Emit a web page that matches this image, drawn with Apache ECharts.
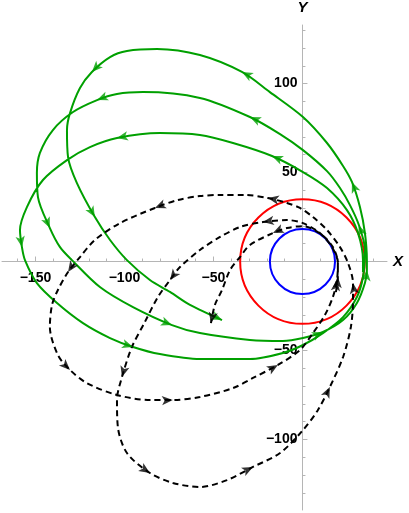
<!DOCTYPE html>
<html>
<head>
<meta charset="utf-8">
<script src="https://cdn.jsdelivr.net/npm/echarts@6/dist/echarts.min.js"></script>
<style>
  html, body { margin: 0; padding: 0; background: #fff; }
  #chart { width: 409px; height: 513px; }
</style>
</head>
<body>
<div id="chart"></div>
<script>
// green trajectory (3 loops)
const greenPath = [
  [34.0, -5.9], [34.0, 0.8], [31.2, 16.0], [25.0, 28.9], [13.8, 41.3], [0.3, 50.3],
  [-17.1, 59.3], [-39.0, 66.6], [-57.6, 71.1], [-80.1, 72.2], [-104.2, 69.4], [-119.4, 64.3],
  [-132.3, 57.0], [-145.8, 45.8], [-154.8, 30.6], [-158.7, 17.7], [-157.6, 8.1], [-155.9, 0.8],
  [-149.2, -12.1], [-137.9, -23.3], [-123.3, -34.6], [-108.1, -43.0], [-95.2, -48.0], [-80.1, -52.0],
  [-57.6, -54.8], [-29.5, -54.8], [-11.0, -51.4], [0.3, -46.9], [11.5, -40.2], [22.8, -31.2],
  [30.6, -19.9], [34.0, -8.7],
  [35.1, 6.5], [31.7, 20.5], [26.7, 31.7], [21.1, 41.3], [13.8, 50.8], [0.3, 62.6],
  [-12.6, 71.6], [-29.5, 81.2], [-57.6, 91.9], [-89.6, 95.2], [-104.2, 94.1], [-115.4, 90.7],
  [-128.9, 84.0], [-140.2, 73.9], [-147.5, 61.0], [-149.2, 49.7], [-148.6, 36.2], [-141.9, 18.8],
  [-136.2, 8.1], [-129.5, 0.8],
  [-113.8, -14.3], [-95.2, -25.6], [-73.3, -35.7], [-57.6, -40.2], [-29.5, -44.1], [-11.0, -44.7],
  [0.3, -43.0], [11.5, -39.6], [22.8, -32.9], [30.6, -23.3], [35.1, -12.1], [36.2, -4.8],
  [36.2, 0.8], [35.1, 16.0], [32.3, 30.6], [27.8, 44.7], [22.8, 53.7], [13.8, 66.6],
  [0.3, 81.2], [-18.3, 95.2], [-34.0, 106.5], [-57.6, 116.0], [-81.7, 119.4], [-98.6, 118.3],
  [-108.1, 114.9], [-118.3, 106.5], [-125.0, 97.5], [-130.6, 83.4], [-132.3, 73.9], [-131.7, 58.7],
  [-126.7, 44.1], [-116.6, 25.0], [-108.1, 12.1], [-98.6, 0.8],
  [-85.7, -10.4], [-74.4, -17.1], [-63.2, -24.4], [-45.2, -32.9]
];
const greenArrowAt = [6, 10, 16, 22, 33, 39, 43, 49, 54, 59, 63, 67, 72, 77, 83, 89];

// dashed trajectory
const dashPath = [
  [18.8, -17.1], [19.9, -8.7], [19.9, -0.8], [16.6, 8.1], [9.8, 16.0], [0.3, 21.6],
  [-8.7, 23.3], [-22.2, 22.2], [-35.1, 19.4], [-46.3, 13.8], [-57.6, 6.5], [-68.8, -3.1],
  [-74.4, -10.4], [-81.2, -19.9], [-88.5, -33.9], [-95.8, -48.0], [-101.4, -64.9], [-104.2, -77.8],
  [-103.7, -93.0], [-98.6, -107.6], [-85.7, -118.8], [-72.8, -124.4], [-57.6, -126.7], [-42.4, -122.8],
  [-27.8, -115.4], [-12.6, -107.6], [0.3, -94.7], [8.7, -83.4], [15.4, -70.5], [22.8, -53.7],
  [27.2, -36.8], [28.4, -21.6], [28.4, -12.1], [25.6, -0.8], [21.1, 8.1], [13.8, 17.7],
  [5.9, 25.0], [-1.4, 30.1], [-8.7, 32.9], [-19.4, 35.7], [-32.3, 37.4], [-46.3, 37.4],
  [-57.6, 36.8], [-69.9, 34.6], [-82.9, 30.1], [-102.5, 21.6], [-116.6, 12.1], [-125.0, 2.5],
  [-131.7, -5.9], [-137.4, -16.0], [-140.7, -24.4], [-141.9, -36.8], [-137.4, -52.5], [-130.6, -60.9],
  [-121.1, -68.3], [-104.2, -75.0], [-85.7, -77.8], [-72.8, -77.8], [-57.6, -76.1], [-39.0, -71.1],
  [-27.8, -65.4], [-13.8, -58.1], [-1.4, -49.7], [5.9, -40.2], [12.6, -30.1], [17.1, -19.9],
  [19.4, -10.4], [19.9, -0.8], [17.1, 8.1], [10.4, 15.4], [0.3, 19.9], [-8.7, 18.8],
  [-16.6, 16.0], [-29.5, 9.3], [-35.1, 2.5], [-40.7, -4.8], [-45.2, -16.0], [-49.2, -24.4],
  [-51.4, -34.6]
];
const dashArrowAt = [1, 7, 12, 16, 20, 24, 28, 32, 39, 44, 48, 53, 57, 61, 66, 72, 78];

// circles centred on the origin
const circleCenter = [0, 0];
const circleRadii = [35, 18.3];
const circleColors = ['#ff0000', '#0000ff'];

// ticks (major ones carry labels)
const xMinorTicks = [-160, -140, -130, -120, -110, -90, -80, -70, -60, -40, -30, -20, -10, 10, 20, 30, 40];
const xMajorTicks = [-150, -100, -50];
const yMinorTicks = [-130, -120, -110, -90, -80, -70, -60, -40, -30, -20, -10, 10, 20, 30, 40, 60, 70, 80, 90, 110, 120, 130];
const yMajorTicks = [-100, -50, 50, 100];

const GREEN = '#00a000';
const AXIS_GRAY = '#b5b5b5';
const FONT = 'Liberation Sans, Arial, sans-serif';
const GRID = { left: 2, right: 22, top: 25, bottom: 3 };

const arrowData = (path, idxs) =>
  idxs.map((i) => {
    const a = path[Math.max(i - 1, 0)];
    const b = path[Math.min(i + 1, path.length - 1)];
    const ang = (Math.atan2(b[1] - a[1], b[0] - a[0]) * 180) / Math.PI;
    return { value: path[i], symbolRotate: ang - 90 };
  });

const labelStyle = {
  color: '#000',
  fontSize: 14,
  fontWeight: 'bold',
  fontFamily: FONT,
  formatter: (v) => String(v).replace('-', '\u2212'),
};
const nameStyle = { color: '#000', fontSize: 15, fontWeight: 'bold', fontStyle: 'italic', fontFamily: FONT };

// axes are moved onto the zero lines with offset (labels do not follow onZero here)
const xAxisBase = { type: 'value', position: 'bottom', min: -168.8, max: 47.5, splitLine: { show: false } };
const yAxisBase = { type: 'value', position: 'left', min: -139.6, max: 132.9, splitLine: { show: false } };

const chart = echarts.init(document.getElementById('chart'));
chart.setOption({
  animation: false,
  grid: { ...GRID, containLabel: false, outerBoundsMode: 'none' },
  xAxis: [
    {
      ...xAxisBase,
      name: 'X',
      nameLocation: 'end',
      nameGap: 6,
      nameTextStyle: { ...nameStyle, align: 'left', verticalAlign: 'middle' },
      axisLine: { onZero: false, lineStyle: { color: AXIS_GRAY, width: 1 } },
      axisTick: { show: true, inside: true, length: 5, customValues: xMajorTicks, lineStyle: { color: AXIS_GRAY } },
      axisLabel: { ...labelStyle, margin: 10, customValues: xMajorTicks },
    },
    {
      ...xAxisBase,
      axisLine: { show: false, onZero: false },
      axisTick: { show: true, inside: true, length: 3, customValues: xMinorTicks, lineStyle: { color: AXIS_GRAY } },
      axisLabel: { show: false },
    },
  ],
  yAxis: [
    {
      ...yAxisBase,
      name: 'Y',
      nameLocation: 'end',
      nameGap: 10,
      nameTextStyle: { ...nameStyle, align: 'center', verticalAlign: 'bottom' },
      axisLine: { onZero: false, lineStyle: { color: AXIS_GRAY, width: 1 } },
      axisTick: { show: true, inside: true, length: 5, customValues: yMajorTicks, lineStyle: { color: AXIS_GRAY } },
      axisLabel: { ...labelStyle, margin: 5, customValues: yMajorTicks },
    },
    {
      ...yAxisBase,
      axisLine: { show: false, onZero: false },
      axisTick: { show: true, inside: true, length: 3, customValues: yMinorTicks, lineStyle: { color: AXIS_GRAY } },
      axisLabel: { show: false },
    },
  ],
  series: [
    {
      type: 'line',
      data: greenPath,
      smooth: 0.3,
      showSymbol: false,
      lineStyle: { color: GREEN, width: 2 },
      z: 2,
    },
    {
      type: 'scatter',
      data: arrowData(greenPath, greenArrowAt),
      symbol: 'arrow',
      symbolSize: [7, 11],
      itemStyle: { color: GREEN },
      z: 3,
    },
    {
      type: 'line',
      data: dashPath,
      smooth: 0.3,
      showSymbol: false,
      lineStyle: { color: '#000', width: 2, type: [6, 4] },
      z: 2,
    },
    {
      type: 'scatter',
      data: arrowData(dashPath, dashArrowAt),
      symbol: 'arrow',
      symbolSize: [7, 11],
      itemStyle: { color: '#000' },
      z: 3,
    },
    {
      type: 'custom',
      coordinateSystem: 'cartesian2d',
      data: circleRadii.map((r, i) => [circleCenter[0], circleCenter[1], r, i]),
      renderItem: (params, api) => {
        const c = api.coord([api.value(0), api.value(1)]);
        const s = api.size([api.value(2), api.value(2)]);
        return {
          type: 'circle',
          shape: { cx: c[0], cy: c[1], r: (s[0] + s[1]) / 2 },
          style: { fill: 'none', stroke: circleColors[api.value(3)], lineWidth: 2 },
        };
      },
      z: 2,
    },
  ],
});

// shift the axes so they cross at the origin
const origin = chart.convertToPixel({ gridIndex: 0 }, [0, 0]);
const xOff = -(chart.getHeight() - GRID.bottom - origin[1]);
const yOff = -(origin[0] - GRID.left);
chart.setOption({
  xAxis: [{ offset: xOff }, { offset: xOff }],
  yAxis: [{ offset: yOff }, { offset: yOff }],
});
</script>
</body>
</html>
